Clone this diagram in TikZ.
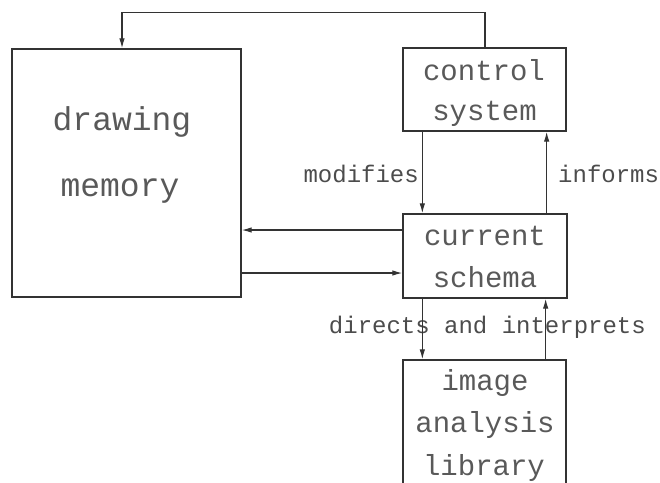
\documentclass[tikz,border=0pt]{standalone}
\usepackage{fontspec}
\newfontfamily\plotfont{Liberation Mono}
\usetikzlibrary{arrows.meta}
\begin{document}
\begin{tikzpicture}[x=1pt,y=-1pt,
  box/.style={draw=black!80,line width=1.3pt,inner sep=0pt},
  bigtext/.style={font=\plotfont\fontsize{33}{40}\selectfont,text=black!65,inner sep=0pt,anchor=base},
  boxtext/.style={font=\plotfont\fontsize{29}{36}\selectfont,text=black!65,inner sep=0pt,anchor=base},
  lbl/.style={font=\plotfont\fontsize{24}{28}\selectfont,text=black!70,inner sep=0pt},
  link/.style={draw=black!80,line width=1.2pt,-{Latex[length=10pt,width=5.5pt]}}]
\useasboundingbox (0,0) rectangle (660,482);
\clip (0,0) rectangle (660,482);

% boxes
\node[box,minimum width=229pt,minimum height=248pt] (mem) at (126.5,173) {};
\node[box,minimum width=163pt,minimum height=83pt] (ctrl) at (484.5,89.5) {};
\node[box,minimum width=164pt,minimum height=84pt] (schema) at (485,256) {};
\node[box,minimum width=163pt,minimum height=130pt] (lib) at (484.5,425) {};

% box texts
\node[bigtext] (memA) at (122,130) {drawing};
\node[bigtext] (memB) at (120,196) {memory};
\node[boxtext] (ctrlA) at (484,80) {control};
\node[boxtext] (ctrlB) at (484.5,120) {system};
\node[boxtext] (schA) at (485,245) {current};
\node[boxtext] (schB) at (485,287) {schema};
\node[boxtext] (libA) at (485,390) {image};
\node[boxtext] (libB) at (485,432) {analysis};
\node[boxtext] (libC) at (484,475) {library};

% labels
\node[lbl,anchor=base east] (lmod) at (419,182) {modifies};
\node[lbl,anchor=base west] (linf) at (558,182) {informs};
\node[lbl,anchor=base east] (ldir) at (646,333) {directs and interprets};

% connectors
\draw[link] ([xshift=0.5pt]ctrl.north) -- ++(0,-35) -| ([xshift=-4.5pt]mem.north);
\draw[link] ([xshift=20pt]ctrl.south west) -- ([xshift=20pt]schema.north west);
\draw[link] ([xshift=-21pt]schema.north east) -- ([xshift=-21pt]schema.north east |- ctrl.south);
\draw[link] ([yshift=26pt]schema.west) -- ([yshift=26pt]schema.west -| mem.east);
\draw[link] ([yshift=-17pt]schema.west -| mem.east) -- ([yshift=-17pt]schema.west);
\draw[link] ([xshift=20pt]schema.south west) -- ([xshift=20pt]schema.south west |- lib.north);
\draw[link] ([xshift=-21pt]lib.north east) -- ([xshift=-21pt]lib.north east |- schema.south);
\end{tikzpicture}
\end{document}
